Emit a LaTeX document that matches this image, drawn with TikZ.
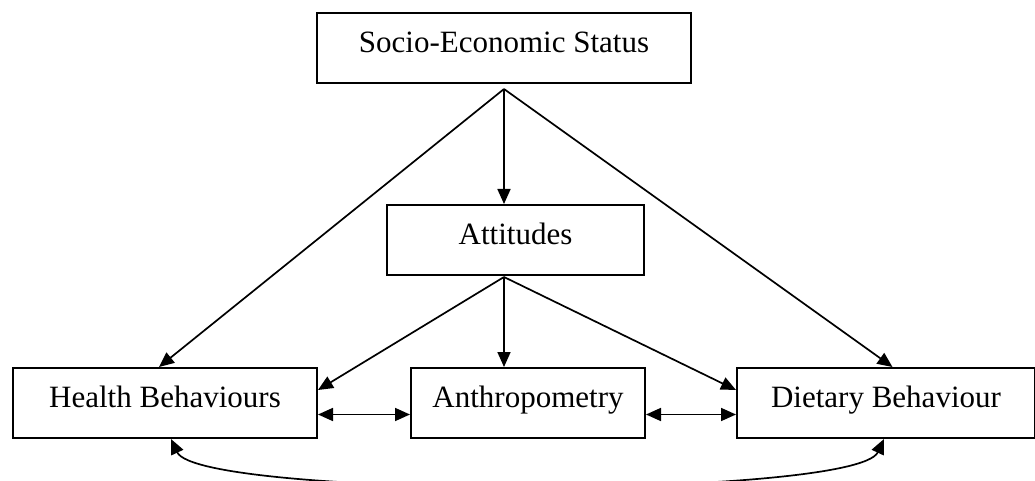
\documentclass[tikz,border=0pt]{standalone}
\usepackage{fontspec}
\setmainfont{Liberation Serif}
\usetikzlibrary{arrows.meta,calc}
\tikzset{
  >={Triangle[length=7.5pt,width=6.5pt]},
  every node/.style={font=\fontsize{15.5}{18}\selectfont},
  % --- nodes
  box/.style  = {draw=black, line width=1pt, fill=white, inner sep=0pt,
                 text height=20pt, text depth=15pt, anchor=north west},
  % --- edges
  e/.style    = {->, line width=0.85pt, draw=black},
  ee/.style   = {<->, line width=0.85pt, draw=black},
}
\begin{document}
\begin{tikzpicture}[x=0.5pt,y=-0.5pt]
  \useasboundingbox (0,0) rectangle (1035,481);
  % boxes
  \node[box, minimum width=187pt]   (ses)  at (316,12)  {Socio-Economic Status};
  \node[box, minimum width=128.5pt] (att)  at (386,204) {Attitudes};
  \node[box, minimum width=152pt]   (hb)   at (12,367)  {Health Behaviours};
  \node[box, minimum width=117pt]   (anth) at (410,367) {Anthropometry};
  \node[box, minimum width=149pt]   (db)   at (736,367) {Dietary Behaviour};
  % fan-out points
  \coordinate (sesout) at ($(ses.south)+(0,5)$);
  \coordinate (attout) at ($(sesout |- att.south)+(0,1)$);
  % from status
  \draw[e] (sesout) -- (sesout |- att.north);
  \draw[e] (sesout) -- ($(hb.north)+(-6,0)$);
  \draw[e] (sesout) -- ($(db.north)+(6.5,0)$);
  % from attitudes
  \draw[e] (attout) -- (attout |- anth.north);
  \draw[e] (attout) -- ($(hb.north east)+(0,23)$);
  \draw[e] (attout) -- ($(db.north west)+(0,23)$);
  % two-way links
  \draw[ee] ($(hb.east)+(0,11.5)$) -- ($(anth.west)+(0,11.5)$);
  \draw[ee] ($(anth.east)+(0,11.5)$) -- ($(db.west)+(0,11.5)$);
  \draw[ee] ($(hb.south)+(6,0)$) .. controls +(28,60) and +(-28,60) .. ($(db.south)+(-2,0)$);
\end{tikzpicture}
\end{document}
